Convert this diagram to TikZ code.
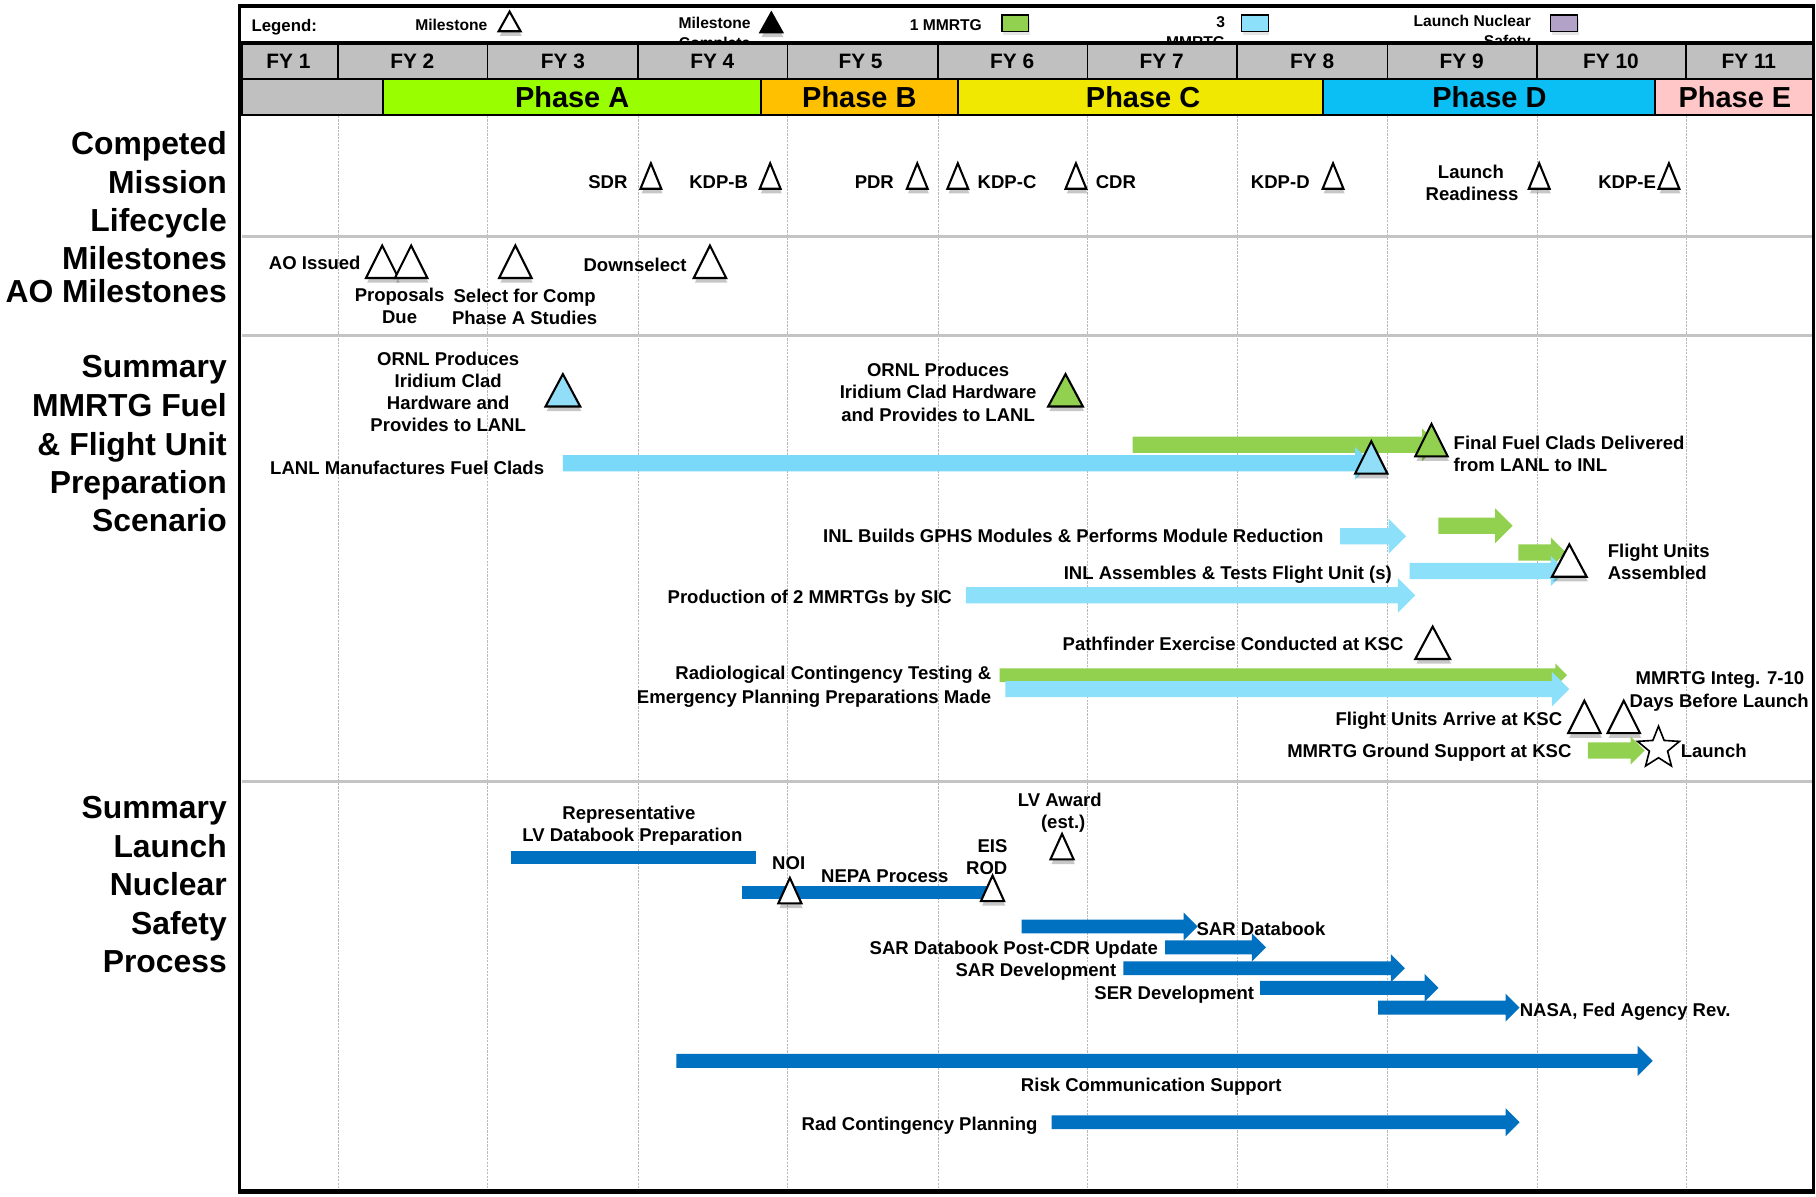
\documentclass[tikz,border=0pt]{standalone}
\usepackage{fontspec}
\setmainfont{Liberation Sans}
\usetikzlibrary{shadows,shapes.geometric}
\definecolor{lblue}{HTML}{8DE0FA}
\definecolor{lanl}{HTML}{7AD9F8}
\definecolor{mgreen}{HTML}{92D050}
\definecolor{dblue}{HTML}{0070C0}
\definecolor{phA}{HTML}{99FF00}
\definecolor{phB}{HTML}{FFC000}
\definecolor{phC}{HTML}{F0E800}
\definecolor{phD}{HTML}{0BBFF5}
\definecolor{phE}{HTML}{FFC7C7}
\definecolor{fygray}{HTML}{C0C0C0}
\definecolor{sepgray}{HTML}{C4C4C4}
\definecolor{lpurple}{HTML}{B3A2C7}
\definecolor{triblue}{HTML}{92DDF7}
\newcommand\tri[5]{\draw[tri,fill=#5] ({#1-#3/2},#2) -- (#1,{#2-#4}) -- ({#1+#3/2},#2) -- cycle;}
\newcommand\garr[6]{\fill[#6] (#1,{#3-#4}) -- ({#2-#5},{#3-#4}) -- ({#2-#5},{#3-#5}) -- (#2,#3) -- ({#2-#5},{#3+#5}) -- ({#2-#5},{#3+#4}) -- (#1,{#3+#4}) -- cycle;}
\tikzset{
  t/.style={font=\fontsize{16}{19}\selectfont\bfseries, inner sep=0pt},
  side/.style={font=\fontsize{27.5}{33}\selectfont\bfseries, inner sep=0pt, anchor=base east},
  leg/.style={font=\fontsize{13.5}{17}\selectfont\bfseries, inner sep=0pt, align=right},
  fy/.style={font=\fontsize{18}{20}\selectfont\bfseries, inner sep=0pt},
  ph/.style={font=\fontsize{25}{28}\selectfont\bfseries, inner sep=0pt},
  tri/.style={draw=black, line width=1.8pt, line join=miter,
    drop shadow={shadow xshift=1pt, shadow yshift=-4pt, opacity=0.22, fill=black}},
  grid/.style={draw=gray!55, line width=0.6pt, dash pattern=on 2pt off 1pt},
  sepl/.style={draw=sepgray, line width=2.5pt},
  cell/.style={draw=black, line width=1.5pt},
}
\begin{document}
\begin{tikzpicture}[x=1pt,y=-1pt]
\useasboundingbox (0,0) rectangle (1568,1033);
\fill[white] (0,0) rectangle (1568,1033);
% legend
\node[anchor=base west, font=\fontsize{14.5}{17}\selectfont\bfseries, inner sep=0pt] (legend) at (217,27) {Legend:};
\node[leg, anchor=base east] (lm) at (421,26) {Milestone};
\tri{440}{27}{19}{17}{white}
\node[leg, align=center, anchor=north] (lmc) at (617,14.5) {Milestone\\Complete};
\tri{666}{28}{19}{17}{black}
\node[leg, anchor=base east] (l1) at (848,26) {1 MMRTG};
\draw[draw=black, line width=1.2pt, fill=mgreen, drop shadow={shadow xshift=1pt, shadow yshift=-3pt, opacity=0.2}] (865,13) rectangle (888,27);
\node[leg, anchor=north east] (l3) at (1058,14.5) {3\\MMRTG};
\draw[draw=black, line width=1.2pt, fill=lblue, drop shadow={shadow xshift=1pt, shadow yshift=-3pt, opacity=0.2}] (1072,13) rectangle (1095,27);
\node[leg, anchor=north east] (lnl) at (1322,13) {Launch Nuclear\\Safety};
\draw[draw=black, line width=1.2pt, fill=lpurple, drop shadow={shadow xshift=1pt, shadow yshift=-3pt, opacity=0.2}] (1339,13) rectangle (1362,27);
% FY row
\foreach \a/\b/\c/\n in {209/292/249/1, 292/421/356/2, 421/551/486/3, 551/680/615/4, 680/810/743/5, 810/939/874/6, 939/1068/1003/7, 1068/1198/1133/8, 1198/1327/1262/9, 1327/1456/1391/10, 1456/1566/1510/11}{
  \draw[cell, fill=fygray] (\a,37) rectangle (\b,68);
  \node[fy] (fy\n) at (\c,53) {FY \n};
}
% phase row
\draw[cell, fill=fygray] (209,68) rectangle (331,99);
\draw[cell, fill=phA] (331,68) rectangle (657,99);
\draw[cell, fill=phB] (657,68) rectangle (827,99);
\draw[cell, fill=phC] (827,68) rectangle (1142,99);
\draw[cell, fill=phD] (1142,68) rectangle (1429,99);
\draw[cell, fill=phE] (1429,68) rectangle (1566,99);
\node[ph] (pa) at (494,84) {Phase A};
\node[ph] (pb) at (742,84) {Phase B};
\node[ph] (pc) at (987,84) {Phase C};
\node[ph] (pd) at (1286,84) {Phase D};
\node[ph] (pe) at (1498,84) {Phase E};
\draw[black, line width=3pt] (207,37) -- (1566,37);
% grid
\foreach \x in {292,421,551,680,810,939,1068,1198,1327,1456}{\draw[grid] (\x,100) -- (\x,1027);}
\draw[sepl] (209,204) -- (1566,204);
\draw[sepl] (209,290) -- (1566,290);
\draw[sepl] (209,675) -- (1566,675);
% frame
\draw[black, line width=3pt] (207,5) rectangle (1566,1029);
\draw[black, line width=4.5pt] (207,1029) -- (1566,1029);
% side labels
\node[side] (s1) at (196,133) {Competed};
\node[side] (s2) at (196,167) {Mission};
\node[side] (s3) at (196,200) {Lifecycle};
\node[side] (s4) at (196,233) {Milestones};
\node[side] (s5) at (196,261) {AO Milestones};
\node[side] (s6) at (196,326) {Summary};
\node[side] (s7) at (196,360) {MMRTG Fuel};
\node[side] (s8) at (196,393) {\& Flight Unit};
\node[side] (s9) at (196,426) {Preparation};
\node[side] (s10) at (196,459) {Scenario};
\node[side] (s11) at (196,707) {Summary};
\node[side] (s12) at (196,740) {Launch};
\node[side] (s13) at (196,773) {Nuclear};
\node[side] (s14) at (196,807) {Safety};
\node[side] (s15) at (196,840) {Process};
% mission milestones
\node[t, anchor=base east] (sdr) at (542,163) {SDR};
\node[t, anchor=base east] (kdpb) at (646,163) {KDP-B};
\node[t, anchor=base east] (pdr) at (772,163) {PDR};
\node[t, anchor=base west] (kdpc) at (844,163) {KDP-C};
\node[t, anchor=base west] (cdr) at (946,163) {CDR};
\node[t, anchor=base east] (kdpd) at (1131,163) {KDP-D};
\node[t, anchor=base] (lr1) at (1270,154) {Launch};
\node[t, anchor=base] (lr2) at (1271,173) {Readiness};
\node[t, anchor=base east] (kdpe) at (1430,163) {KDP-E};
\foreach \x in {562,665,792,827,929,1151,1329,1441}{\tri{\x}{163}{18}{22}{white}}
% AO milestones
\node[t, anchor=base west] (ao) at (232,233) {AO Issued};
\node[t, anchor=base] (pr1) at (345,260) {Proposals};
\node[t, anchor=base] (pr2) at (345,279) {Due};
\node[t, anchor=base] (sc1) at (453,261) {Select for Comp};
\node[t, anchor=base] (sc2) at (453,280) {Phase A Studies};
\node[t, anchor=base east] (ds) at (593,234) {Downselect};
\foreach \x in {330,355,445,613}{\tri{\x}{240}{28}{28}{white}}
% MMRTG section
\node[t, anchor=base] (o1) at (387,316) {ORNL Produces};
\node[t, anchor=base] (o2) at (387,335) {Iridium Clad};
\node[t, anchor=base] (o3) at (387,354) {Hardware and};
\node[t, anchor=base] (o4) at (387,373) {Provides to LANL};
\tri{486}{351}{30}{28}{triblue}
\node[t, anchor=base] (p1) at (810,325) {ORNL Produces};
\node[t, anchor=base] (p2) at (810,344) {Iridium Clad Hardware};
\node[t, anchor=base] (p3) at (810,364) {and Provides to LANL};
\tri{920}{351}{30}{28}{mgreen}
\garr{978}{1242}{384}{7}{14}{mgreen}
\garr{486}{1184}{400}{7}{14}{lanl}
\tri{1236}{394}{28}{28}{mgreen}
\tri{1184}{409}{28}{28}{triblue}
\node[t, anchor=base east] (lanlt) at (470,410) {LANL Manufactures Fuel Clads};
\node[t, anchor=base west] (ff1) at (1255,388) {Final Fuel Clads Delivered};
\node[t, anchor=base west] (ff2) at (1255,407) {from LANL to INL};
\node[t, anchor=base east] (inlb) at (1143,468) {INL Builds GPHS Modules \& Performs Module Reduction};
\garr{1157}{1214}{463}{7}{15}{lblue}
\garr{1242}{1306}{454}{7}{15}{mgreen}
\garr{1311}{1352}{477}{7}{13}{mgreen}
\garr{1217}{1352}{493}{7}{13}{lblue}
\tri{1355}{498}{30}{28}{white}
\node[t, anchor=base east] (inla) at (1202,500) {INL Assembles \& Tests Flight Unit (s)};
\node[t, anchor=base west] (fu1) at (1388,481) {Flight Units};
\node[t, anchor=base west] (fu2) at (1388,500) {Assembled};
\node[t, anchor=base east] (prod) at (822,521) {Production of 2 MMRTGs by SIC};
\garr{834}{1222}{514}{7}{15}{lblue}
\node[t, anchor=base east] (path) at (1212,562) {Pathfinder Exercise Conducted at KSC};
\tri{1237}{569}{30}{28}{white}
\node[t, anchor=base east] (rc1) at (856,587) {Radiological Contingency Testing \&};
\node[t, anchor=base east] (rc2) at (856,607) {Emergency Planning Preparations Made};
\garr{863}{1353}{583}{6}{10}{mgreen}
\garr{868}{1355}{595}{7}{15}{lblue}
\node[t, anchor=base east] (mi1) at (1558,591) {MMRTG Integ. 7-10};
\node[t, anchor=base east] (mi2) at (1562,611) {Days Before Launch};
\node[t, anchor=base east] (fua) at (1349,626) {Flight Units Arrive at KSC};
\tri{1368}{633}{28}{28}{white}
\tri{1402}{633}{28}{28}{white}
\node[t, anchor=base east] (mgs) at (1357,654) {MMRTG Ground Support at KSC};
\garr{1371}{1420}{648}{7}{12}{mgreen}
\node[star, star points=5, star point ratio=2.3, draw=black, line width=1.4pt, fill=white, minimum size=38pt, inner sep=0pt] (star) at (1432,646) {};
\node[t, anchor=base west] (launch) at (1451,654) {Launch};
% launch nuclear safety
\node[t, anchor=base] (rep1) at (543,708) {Representative};
\node[t, anchor=base] (rep2) at (546,727) {LV Databook Preparation};
\fill[dblue] (441,735) rectangle (653,746);
\node[t, anchor=base] (noi) at (681,751) {NOI};
\fill[dblue] (641,765) rectangle (856,776);
\node[t, anchor=base] (nepa) at (764,762) {NEPA Process};
\tri{682}{780}{20}{22}{white}
\node[t, anchor=base] (eis) at (857,736) {EIS};
\node[t, anchor=base] (rod) at (852,755) {ROD};
\tri{857}{778}{20}{22}{white}
\node[t, anchor=base] (lva1) at (915,696) {LV Award};
\node[t, anchor=base] (lva2) at (918,715) {(est.)};
\tri{917}{742}{20}{22}{white}
\garr{882}{1034}{800}{6}{12}{dblue}
\node[t, anchor=base west] (sard) at (1033,808) {SAR Databook};
\node[t, anchor=base east] (sarp) at (1000,824) {SAR Databook Post-CDR Update};
\garr{1006}{1093}{818}{6}{12}{dblue}
\node[t, anchor=base east] (sardev) at (964,843) {SAR Development};
\garr{970}{1213}{836}{6}{12}{dblue}
\node[t, anchor=base east] (serdev) at (1083,863) {SER Development};
\garr{1088}{1242}{853}{6}{12}{dblue}
\garr{1190}{1312}{870}{6}{12}{dblue}
\node[t, anchor=base west] (nasa) at (1312,878) {NASA, Fed Agency Rev.};
\garr{584}{1427}{916}{6}{13}{dblue}
\node[t, anchor=base] (risk) at (994,942) {Risk Communication Support};
\node[t, anchor=base east] (rad) at (896,976) {Rad Contingency Planning};
\garr{908}{1312}{969}{6}{12}{dblue}
\end{tikzpicture}
\end{document}
